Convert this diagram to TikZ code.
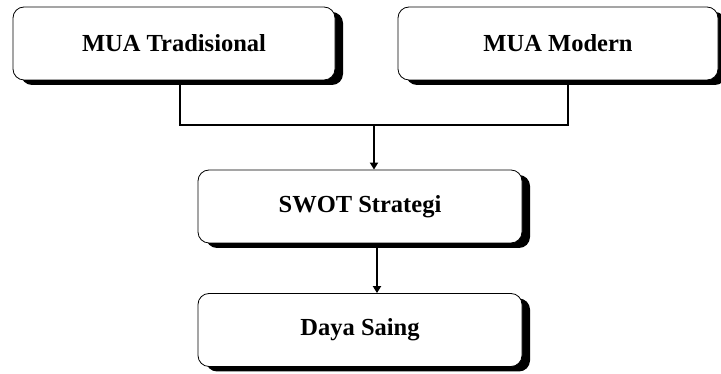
\documentclass[tikz,border=0pt]{standalone}
\usepackage{fontspec}
\setmainfont{Liberation Serif}
\usetikzlibrary{shadows,arrows.meta}
\begin{document}
\begin{tikzpicture}[x=1pt,y=1pt,
  box/.style={draw=black, line width=0.8pt, rounded corners=11pt, fill=white,
    minimum height=73pt, inner sep=0pt, font=\fontsize{24.5}{28}\selectfont\bfseries,
    drop shadow={shadow xshift=8pt, shadow yshift=-5pt, fill=black, opacity=1}},
  conn/.style={line width=2.4pt, draw=black},
  arr/.style={conn, -{Triangle[length=7pt,width=8pt]}}]
\useasboundingbox (0,0) rectangle (721,374);
\node[box, minimum width=322pt] (A) at (174,330.5) {MUA Tradisional};
\node[box, minimum width=320pt] (B) at (558,330.5) {MUA Modern};
\node[box, minimum width=324pt] (C) at (360,167.5) {SWOT Strategi};
\node[box, minimum width=324pt] (D) at (360,44) {Daya Saing};
\coordinate (J) at (374,249);
\draw[conn] ([xshift=6pt]A.south) |- (J);
\draw[conn] ([xshift=10pt]B.south) |- (J);
\draw[arr] (J) -- ([xshift=14pt]C.north);
\draw[arr] ([xshift=17pt]C.south) -- ([xshift=17pt]D.north);
\end{tikzpicture}
\end{document}
